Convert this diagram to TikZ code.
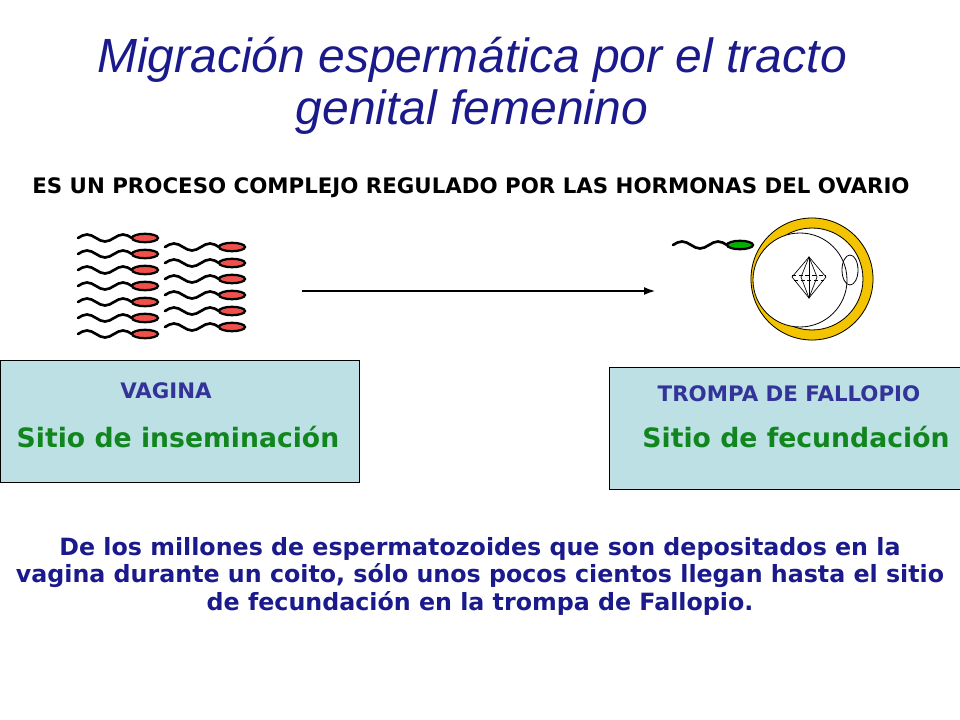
\documentclass[tikz,border=0pt]{standalone}
\usepackage{fontspec}
\usetikzlibrary{arrows.meta}
\setmainfont{DejaVu Sans}
\newfontfamily\titlefont{Liberation Sans}
\begin{document}
\begin{tikzpicture}[x=0.75pt,y=-0.75pt]
\definecolor{boxfill}{HTML}{BCE0E4}
\definecolor{titleblue}{HTML}{1A1A8C}
\definecolor{labblue}{HTML}{333399}
\definecolor{sgreen}{HTML}{12861E}
\definecolor{headred}{HTML}{F0504A}
\definecolor{ring}{HTML}{F5C400}
\tikzset{
  tail/.style={line width=2pt,line cap=round},
  head/.style={draw=black,line width=1.7pt,fill=headred},
  box/.style={draw=black,line width=0.5pt,fill=boxfill},
  pics/sperm/.style={code={
    \draw[tail] (-67,0) sin (-58,-3.5) cos (-49,0) sin (-40,3.5) cos (-31,0) sin (-22,-3.5) cos (-13,0);
    \fill[head,fill=#1] (0,0) ellipse (13 and 4.2);
  }}
}
\useasboundingbox (0,0) rectangle (960,720);
\fill[white] (0,0) rectangle (960,720);
% title
\node[font=\titlefont\itshape\fontsize{36}{39}\selectfont,text=titleblue,align=center] (title) at (472,86) {Migración espermática por el tracto\\genital femenino};
\node[font=\bfseries\fontsize{16}{18}\selectfont] (sub) at (471,188) {ES UN PROCESO COMPLEJO REGULADO POR LAS HORMONAS DEL OVARIO};
% sperm cluster
\foreach \y in {238,254,270,286,302,318,334} \pic at (145,\y) {sperm=headred};
\foreach \y in {247,263,279,295,311,327} \pic at (232,\y) {sperm=headred};
% arrow
\coordinate (a1) at (302,291); \coordinate (a2) at (656,291);
\draw[line width=1.8pt,-{Latex[length=9pt,width=6pt]}] (a1) -- (a2);
% egg
\draw[ring,line width=8pt] (812,279) circle (56);
\draw[black,line width=0.6pt] (812,279) circle (61);
\draw[black,line width=0.6pt] (812,279) circle (51);
\fill[white] (800,280) circle (47);
\draw[black,line width=0.6pt] (800,280) circle (47);
\draw[black,line width=0.6pt] (850,270) ellipse (8 and 15);
\begin{scope}[line width=0.5pt]
\draw (809,257) -- (792,277) -- (809,298) -- (826,277) -- cycle;
\draw (809,257) -- (801,277) -- (809,298) -- (817,277) -- cycle;
\draw (809,257) -- (809,298);
\draw[dashed,dash pattern=on 3pt off 2pt] (792,275) -- (826,275) (794,280) -- (824,280);
\end{scope}
\pic at (740,245) {sperm=green!70!black};
% boxes
\node[box,minimum width=359*0.75pt,minimum height=122*0.75pt,anchor=north west] (vag) at (0,360) {};
\node[box,minimum width=351*0.75pt,minimum height=122*0.75pt,anchor=north west] (tro) at (609,367) {};
\node[font=\bfseries\fontsize{16}{18}\selectfont,text=labblue] (vagl) at (166,391) {VAGINA};
\node[font=\bfseries\fontsize{20}{22}\selectfont,text=sgreen] (vags) at (178,437) {Sitio de inseminación};
\node[font=\bfseries\fontsize{16}{18}\selectfont,text=labblue] (trol) at (789,394) {TROMPA DE FALLOPIO};
\node[font=\bfseries\fontsize{20}{22}\selectfont,text=sgreen] (tros) at (796,437) {Sitio de fecundación};
% bottom text
\node[font=\bfseries\fontsize{17.8}{20.6}\selectfont,text=titleblue,align=center] (bot) at (480,576) {De los millones de espermatozoides que son depositados en la\\vagina durante un coito, sólo unos pocos cientos llegan hasta el sitio\\de fecundación en la trompa de Fallopio.};
\end{tikzpicture}
\end{document}
